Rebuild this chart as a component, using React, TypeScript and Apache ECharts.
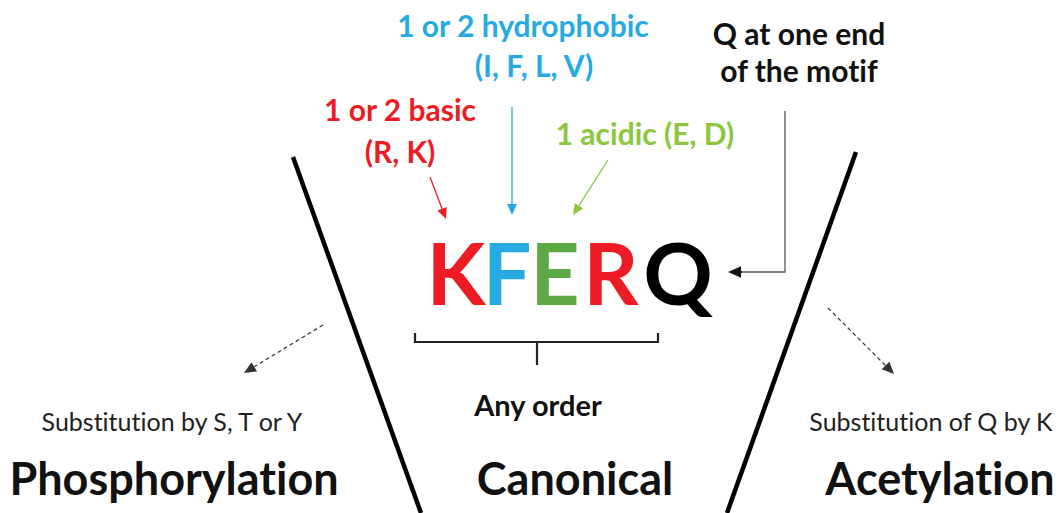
import React, { useEffect, useRef } from "react";
import * as echarts from "echarts";

// ---- content ----
const motifLetters = ["K", "F", "E", "R", "Q"];
const motifColors = ["#ed1c24", "#27aae1", "#5ea845", "#ed1c24", "#000000"];
const topLabels = [
  { lines: ["1 or 2 hydrophobic", "(I, F, L, V)"], color: "#27aae1" },
  { lines: ["1 or 2 basic", "(R, K)"], color: "#ed1c24" },
  { lines: ["1 acidic (E, D)"], color: "#8dc63f" },
  { lines: ["Q at one end", "of the motif"], color: "#111111" },
];
const bracketLabel = "Any order";
const sideNotes = ["Substitution by S, T or Y", "Substitution of Q by K"];
const sectionTitles = ["Phosphorylation", "Canonical", "Acetylation"];

// ---- layout ----
const FONT = "Lato, 'Open Sans', sans-serif";
const letterX = [456, 507, 555, 611, 678];
const topLabelPos = [
  { x: [523, 534], y: [25, 65] },
  { x: [400, 400], y: [109, 151] },
  { x: [645], y: [133] },
  { x: [799, 799], y: [33, 70] },
];

function arrow(x1: number, y1: number, x2: number, y2: number, color: string, width: number, head: number, dash?: number[]) {
  const dx = x2 - x1, dy = y2 - y1;
  const len = Math.hypot(dx, dy);
  const ux = dx / len, uy = dy / len;
  const bx = x2 - ux * head, by = y2 - uy * head;
  const px = -uy * head * 0.45, py = ux * head * 0.45;
  return [
    {
      type: "line",
      shape: { x1, y1, x2: bx, y2: by },
      style: { stroke: color, lineWidth: width, lineDash: dash },
    },
    {
      type: "polygon",
      shape: { points: [[x2, y2], [bx + px, by + py], [bx - px, by - py]] },
      style: { fill: color },
    },
  ];
}

function txt(text: string, x: number, y: number, size: number, color: string, weight = "bold") {
  return {
    type: "text",
    x,
    y,
    style: {
      text,
      fill: color,
      font: `${weight} ${size}px ${FONT}`,
      align: "center",
      verticalAlign: "middle",
    },
  };
}

const noLigatures = `svg text { font-variant-ligatures: none !important; font-feature-settings: "liga" 0, "clig" 0, "dlig" 0 !important; }`;

export default function App() {
  const ref = useRef<HTMLDivElement>(null);
  useEffect(() => {
    document.body.style.margin = "0";
    const chart = echarts.init(ref.current!, undefined, { renderer: "svg" });
    const els: any[] = [];

    // big slanted dividers
    els.push({ type: "line", shape: { x1: 293, y1: 157, x2: 421, y2: 513 }, style: { stroke: "#000", lineWidth: 4.5 } });
    els.push({ type: "line", shape: { x1: 856, y1: 152, x2: 727, y2: 513 }, style: { stroke: "#000", lineWidth: 4.5 } });

    // top labels
    topLabels.forEach((l, i) => {
      l.lines.forEach((line, j) => {
        els.push(txt(line, topLabelPos[i].x[j], topLabelPos[i].y[j], 30, l.color));
      });
    });

    // motif letters
    motifLetters.forEach((c, i) => {
      els.push({
        type: "text",
        x: letterX[i],
        y: 271,
        style: { text: c, fill: motifColors[i], font: `bold 86px ${FONT}`, align: "center", verticalAlign: "middle" },
      });
    });

    // annotation arrows
    els.push(...arrow(430, 177, 446, 219, "#ed1c24", 1.3, 11));
    els.push(...arrow(512, 107, 512, 215, "#27aae1", 1.3, 11));
    els.push(...arrow(608, 160, 573, 215, "#8dc63f", 1.3, 11));
    els.push({ type: "polyline", shape: { points: [[785, 111], [785, 272], [740, 272]] }, style: { stroke: "#555", lineWidth: 1.3, fill: null } });
    els.push(...arrow(742, 272, 728, 272, "#111", 1.3, 13));

    // bracket
    els.push({
      type: "polyline",
      shape: { points: [[415, 333], [415, 342], [658, 342], [658, 333]] },
      style: { stroke: "#222", lineWidth: 2.2, fill: null },
    });
    els.push({ type: "line", shape: { x1: 537, y1: 342, x2: 537, y2: 365 }, style: { stroke: "#222", lineWidth: 2.2 } });
    els.push(txt(bracketLabel, 538, 404, 29, "#111"));

    // dashed side arrows
    els.push(...arrow(323, 325, 244, 373, "#333", 1.2, 12, [4, 3]));
    els.push(...arrow(828, 308, 894, 374, "#333", 1.2, 12, [4, 3]));

    // side notes
    els.push(txt(sideNotes[0], 172, 421, 25, "#222", "normal"));
    els.push(txt(sideNotes[1], 931, 421, 25, "#222", "normal"));

    // section titles
    els.push(txt(sectionTitles[0], 174, 478, 45, "#111"));
    els.push(txt(sectionTitles[1], 575, 478, 45, "#111"));
    els.push(txt(sectionTitles[2], 940, 478, 45, "#111"));

    chart.setOption({ animation: false, backgroundColor: "#ffffff", graphic: { elements: els } });
    return () => chart.dispose();
  }, []);
  return (
    <>
      <style>{noLigatures}</style>
      <div ref={ref} style={{ position: "absolute", left: 0, top: 0, width: 1062, height: 513 }} />
    </>
  );
}
